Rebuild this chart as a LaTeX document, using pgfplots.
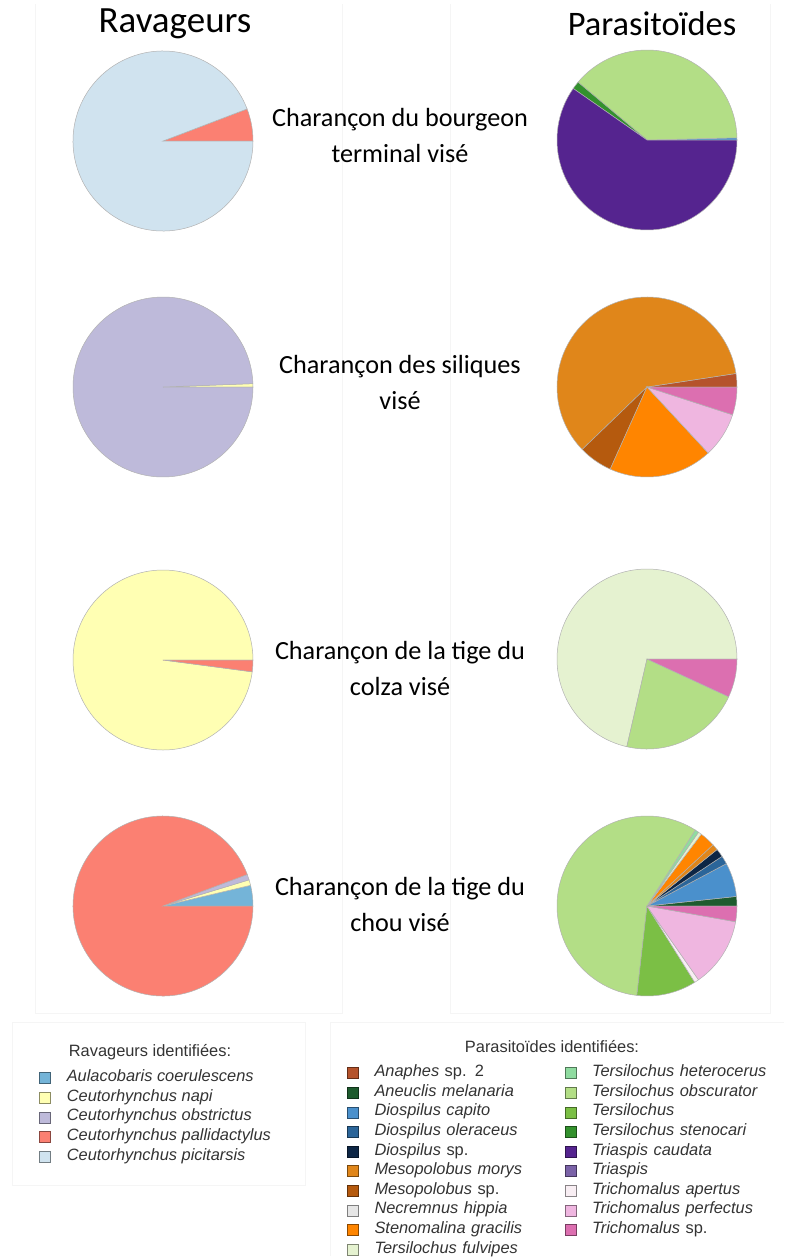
\documentclass[border=0pt]{standalone}
\usepackage{fontspec}
\setmainfont{Carlito}
\newfontfamily\arial{Liberation Sans}
\usepackage{pgfplots}
\usepackage{pgfplotstable}
\pgfplotsset{compat=1.18}

% ravageurs
\definecolor{rAul}{HTML}{74B4D8}
\definecolor{rNapi}{HTML}{FFFFB3}
\definecolor{rObs}{HTML}{BEBADA}
\definecolor{rPal}{HTML}{FB8072}
\definecolor{rPic}{HTML}{D0E3EF}
% parasitoides
\definecolor{pAna}{HTML}{B5532C}
\definecolor{pAne}{HTML}{1E5B2E}
\definecolor{pDcap}{HTML}{4A90CC}
\definecolor{pDole}{HTML}{2B6599}
\definecolor{pDsp}{HTML}{0D2645}
\definecolor{pMmor}{HTML}{E0861A}
\definecolor{pMsp}{HTML}{B55A0E}
\definecolor{pNec}{HTML}{E6E6E6}
\definecolor{pSte}{HTML}{FF8500}
\definecolor{pTful}{HTML}{E5F2D0}
\definecolor{pThet}{HTML}{8FDBA0}
\definecolor{pTobs}{HTML}{B3DE86}
\definecolor{pTsp}{HTML}{7BBF45}
\definecolor{pTste}{HTML}{33912D}
\definecolor{pTcau}{HTML}{55248F}
\definecolor{pTria}{HTML}{7B63A8}
\definecolor{pTape}{HTML}{F8EEF3}
\definecolor{pTper}{HTML}{EFB6E0}
\definecolor{pTrsp}{HTML}{DC6FB0}

% slices: start and end in percent, counterclockwise from 3 o'clock
\pgfplotstableread{
a b c
0 5.8 rPal
5.8 100 rPic
}\pieLa
\pgfplotstableread{
a b c
0 0.6 rNapi
0.6 100 rObs
}\pieLb
\pgfplotstableread{
a b c
0 97.9 rNapi
97.9 100 rPal
}\pieLc
\pgfplotstableread{
a b c
0 3.7 rAul
3.7 4.7 rNapi
4.7 5.7 rObs
5.7 100 rPal
}\pieLd
\pgfplotstableread{
a b c
0 0.4 pDcap
0.4 38.9 pTobs
38.9 40.3 pTste
40.3 100 pTcau
}\pieRa
\pgfplotstableread{
a b c
0 2.4 pAna
2.4 62.2 pMmor
62.2 68.3 pMsp
68.3 86.9 pSte
86.9 95.0 pTper
95.0 100 pTrsp
}\pieRb
\pgfplotstableread{
a b c
0 71.4 pTful
71.4 93.1 pTobs
93.1 100 pTrsp
}\pieRc
\pgfplotstableread{
a b c
0 1.7 pAne
1.7 7.8 pDcap
7.8 9.3 pDole
9.3 10.8 pDsp
10.8 11.9 pMmor
11.9 14.7 pSte
14.7 15.3 pTful
15.3 16.0 pThet
16.0 73.2 pTobs
73.2 83.9 pTsp
83.9 84.7 pTape
84.7 97.2 pTper
97.2 100 pTrsp
}\pieRd

\pgfplotsset{
  base/.style={width=392.5pt, height=629pt, scale only axis,
    xmin=0, xmax=785, ymin=0, ymax=1258, y dir=reverse,
    hide axis, clip=false},
  slice/.style n args={3}{scatter, only marks, mark=*, mark size=0pt,
    point meta min=0, point meta max=1300,
    scatter/@pre marker code/.code={
      \filldraw[fill=#3, draw=black!30, line width=0.25pt]
        (0pt,0pt) -- ({3.6*#1}:45pt)
        arc[start angle={3.6*#1}, end angle={3.6*#2}, radius=45pt] -- cycle;},
    scatter/@post marker code/.code={}},
  legbox/.style={
    legend cell align=left,
    legend image code/.code={
      \draw[##1, line width=0.5pt] (0pt,-2.75pt) rectangle (5.5pt,2.75pt);
      \path (13.3pt,0pt);},
    legend style={draw=none, fill=none, inner sep=0pt, outer sep=0pt,
      row sep=0pt, column sep=0pt,
      font=\arial\itshape\fontsize{8.2}{9.8}\selectfont, text=black!80,
      nodes={inner sep=0pt, text height=6.6pt, text depth=3.2pt}}},
}

% one \addplot per row of a pie table, centred at (#2,#3)
\newcommand\pie[3]{%
  \pgfplotstablegetrowsof{#1}%
  \pgfmathtruncatemacro\lastrow{\pgfplotsretval-1}%
  \pgfplotsforeachungrouped \i in {0,...,\lastrow}{%
    \pgfplotstablegetelem{\i}{a}\of{#1}\let\pa\pgfplotsretval
    \pgfplotstablegetelem{\i}{b}\of{#1}\let\pb\pgfplotsretval
    \pgfplotstablegetelem{\i}{c}\of{#1}\let\pc\pgfplotsretval
    \edef\next{\noexpand\addplot[slice={\pa}{\pb}{\pc}] coordinates {(#2,#3)};}%
    \next
  }%
}

\begin{document}
\begin{tikzpicture}
\begin{axis}[base]
  % faint panel frames
  \draw[black!4, line width=0.5pt] (axis cs:35,4) -- (axis cs:35,1013) -- (axis cs:342,1013) -- (axis cs:342,4);
  \draw[black!4, line width=0.5pt] (axis cs:450,4) -- (axis cs:450,1013) -- (axis cs:770,1013) -- (axis cs:770,4);
  \draw[black!4, line width=0.5pt] (axis cs:12,1022) rectangle (axis cs:305,1185);
  \draw[black!4, line width=0.5pt] (axis cs:330,1256) -- (axis cs:330,1022) -- (axis cs:784,1022);

  \pie{\pieLa}{163}{141}
  \pie{\pieLb}{163}{387}
  \pie{\pieLc}{163}{660}
  \pie{\pieLd}{163}{906}
  \pie{\pieRa}{647}{140}
  \pie{\pieRb}{647}{387}
  \pie{\pieRc}{647}{659}
  \pie{\pieRd}{647}{906}

  \node[font=\fontsize{18.5}{22}\selectfont] at (axis cs:175,24) {Ravageurs};
  \node[font=\fontsize{17.2}{22}\selectfont] at (axis cs:652,24) {Parasitoïdes};

  \begin{scope}[every node/.style={align=center, font=\fontsize{13.1}{18}\selectfont}]
  \node at (axis cs:400,135) {Charançon du bourgeon\\terminal visé};
  \node at (axis cs:400,382) {Charançon des siliques\\visé};
  \node at (axis cs:400,668) {Charançon de la tige du\\colza visé};
  \node at (axis cs:400,904) {Charançon de la tige du\\chou visé};
  \end{scope}

  \node[font=\arial\fontsize{8.2}{9.8}\selectfont, text=black!80] at (axis cs:150,1052) {Ravageurs identifiées:};
  \node[font=\arial\fontsize{8.2}{9.8}\selectfont, text=black!80] at (axis cs:552,1047) {Parasitoïdes identifiées:};
\end{axis}

\begin{axis}[base, legbox, legend style={at={(axis cs:39.3,1068.5)}, anchor=north west}]
  \addlegendimage{fill=rAul, draw=rAul!55!black}
  \addlegendentry{Aulacobaris coerulescens}
  \addlegendimage{fill=rNapi, draw=rNapi!55!black}
  \addlegendentry{Ceutorhynchus napi}
  \addlegendimage{fill=rObs, draw=rObs!55!black}
  \addlegendentry{Ceutorhynchus obstrictus}
  \addlegendimage{fill=rPal, draw=rPal!55!black}
  \addlegendentry{Ceutorhynchus pallidactylus}
  \addlegendimage{fill=rPic, draw=rPic!55!black}
  \addlegendentry{Ceutorhynchus picitarsis}
\end{axis}

\begin{axis}[base, legbox, legend columns=2,
  legend style={at={(axis cs:347,1063.5)}, anchor=north west,
    nodes={text width=95pt}}]
  \addlegendimage{fill=pAna, draw=pAna!55!black}
  \addlegendentry{Anaphes \textup{sp. 2}}
  \addlegendimage{fill=pThet, draw=pThet!55!black}
  \addlegendentry{Tersilochus heterocerus}
  \addlegendimage{fill=pAne, draw=pAne!55!black}
  \addlegendentry{Aneuclis melanaria}
  \addlegendimage{fill=pTobs, draw=pTobs!55!black}
  \addlegendentry{Tersilochus obscurator}
  \addlegendimage{fill=pDcap, draw=pDcap!55!black}
  \addlegendentry{Diospilus capito}
  \addlegendimage{fill=pTsp, draw=pTsp!55!black}
  \addlegendentry{Tersilochus}
  \addlegendimage{fill=pDole, draw=pDole!55!black}
  \addlegendentry{Diospilus oleraceus}
  \addlegendimage{fill=pTste, draw=pTste!55!black}
  \addlegendentry{Tersilochus stenocari}
  \addlegendimage{fill=pDsp, draw=pDsp!55!black}
  \addlegendentry{Diospilus \textup{sp.}}
  \addlegendimage{fill=pTcau, draw=pTcau!55!black}
  \addlegendentry{Triaspis caudata}
  \addlegendimage{fill=pMmor, draw=pMmor!55!black}
  \addlegendentry{Mesopolobus morys}
  \addlegendimage{fill=pTria, draw=pTria!55!black}
  \addlegendentry{Triaspis}
  \addlegendimage{fill=pMsp, draw=pMsp!55!black}
  \addlegendentry{Mesopolobus \textup{sp.}}
  \addlegendimage{fill=pTape, draw=pTape!55!black}
  \addlegendentry{Trichomalus apertus}
  \addlegendimage{fill=pNec, draw=pNec!55!black}
  \addlegendentry{Necremnus hippia}
  \addlegendimage{fill=pTper, draw=pTper!55!black}
  \addlegendentry{Trichomalus perfectus}
  \addlegendimage{fill=pSte, draw=pSte!55!black}
  \addlegendentry{Stenomalina gracilis}
  \addlegendimage{fill=pTrsp, draw=pTrsp!55!black}
  \addlegendentry{Trichomalus \textup{sp.}}
  \addlegendimage{fill=pTful, draw=pTful!55!black}
  \addlegendentry{Tersilochus fulvipes}
\end{axis}
\pgfresetboundingbox
\path[use as bounding box] (0pt,0pt) rectangle (392.5pt,629pt);
\end{tikzpicture}
\end{document}
